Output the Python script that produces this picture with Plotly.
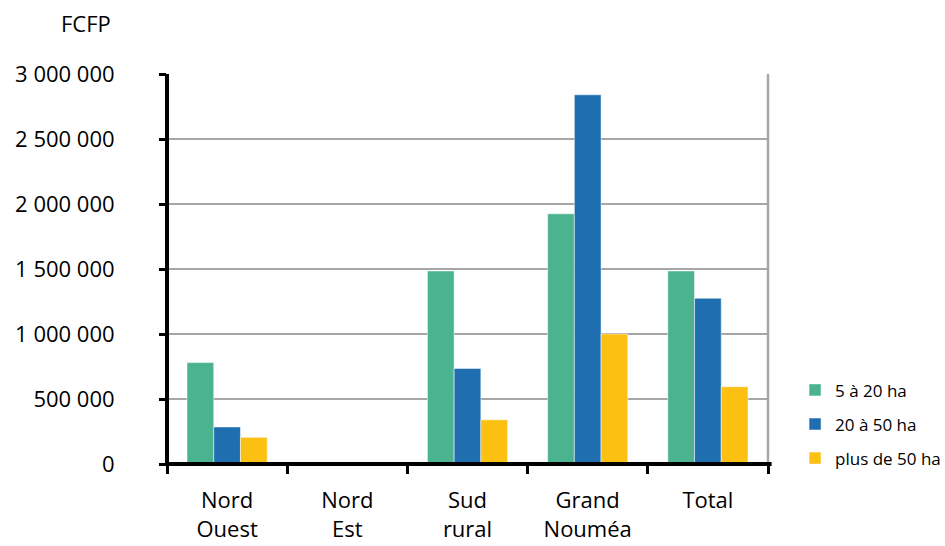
import plotly.graph_objects as go

# Categories and series (FCFP)
regions = ["Nord<br>Ouest", "Nord<br>Est", "Sud<br>rural", "Grand<br>Nouméa", "Total"]
small_5_20 = [780000, 0, 1485000, 1925000, 1485000]
mid_20_50 = [285000, 0, 735000, 2840000, 1275000]
large_50 = [205000, 0, 340000, 1000000, 595000]

series_names = ["5 à 20 ha", "20 à 50 ha", "plus de 50 ha"]
series_colors = ["#4BB390", "#1F6FB0", "#FBC012"]

y_ticks = [0, 500000, 1000000, 1500000, 2000000, 2500000, 3000000]
y_tick_text = ["0", "500 000", "1 000 000", "1 500 000", "2 000 000", "2 500 000", "3 000 000"]

FONT = "Open Sans"

fig = go.Figure()
for name, vals, col in zip(series_names, [small_5_20, mid_20_50, large_50], series_colors):
    fig.add_trace(go.Bar(
        x=regions, y=vals, name=name,
        marker=dict(color=col, line=dict(color="rgba(255,255,255,0.5)", width=1)),
        legendgroup=name,
    ))

fig.update_layout(
    width=945, height=546,
    margin=dict(l=167, r=177, t=74, b=82, autoexpand=False),
    paper_bgcolor="white", plot_bgcolor="white",
    barmode="group", bargap=0.333, bargroupgap=0,
    font=dict(family=FONT, color="black", size=22),
    showlegend=True,
    legend=dict(
        x=1.045, y=0.235, xanchor="left", yanchor="top",
        font=dict(family=FONT, size=17, color="black"),
        tracegroupgap=9,
        itemwidth=30,
    ),
    xaxis=dict(
        type="category",
        showline=False,
        ticks="outside", ticklen=9, tickwidth=3, tickcolor="black",
        tickson="boundaries",
        ticklabelstandoff=21,
        tickfont=dict(family=FONT, size=22, color="black"),
        showgrid=False,
    ),
    yaxis=dict(
        range=[0, 3000000],
        tickvals=y_ticks, ticktext=y_tick_text,
        showline=False,
        ticks="outside", ticklen=7, tickwidth=3, tickcolor="black",
        ticklabelstandoff=40,
        tickfont=dict(family=FONT, size=22, color="black"),
        showgrid=True, gridcolor="#A6A6A6", gridwidth=1.5,
        zeroline=False,
    ),
    shapes=[
        # right frame edge
        dict(type="line", xref="paper", yref="paper", x0=1, x1=1, y0=0, y1=1,
             line=dict(color="#A6A6A6", width=2.5)),
        # black axis lines
        dict(type="line", xref="paper", yref="paper", x0=0, x1=0, y0=-0.005, y1=1,
             line=dict(color="black", width=4)),
        dict(type="line", xref="paper", yref="paper", x0=0, x1=1.006, y0=0, y1=0,
             line=dict(color="black", width=4)),
    ],
    annotations=[
        dict(text="FCFP", xref="paper", yref="paper", x=-0.09, y=1.13,
             xanchor="right", yanchor="middle", showarrow=False,
             font=dict(family=FONT, size=22, color="black")),
    ],
)

fig.write_html("out.html")
